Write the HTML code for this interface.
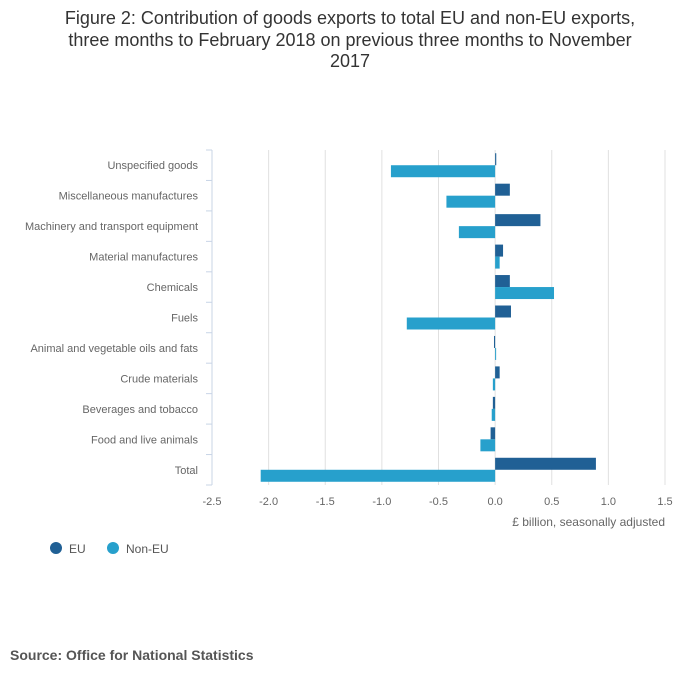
<!DOCTYPE html>
<html><head><meta charset="utf-8"><style>
body{margin:0;background:#fff;font-family:"Liberation Sans",sans-serif;}
</style></head><body>
<svg width="700" height="682" xmlns="http://www.w3.org/2000/svg" style="display:block">
<text x="350" y="24" text-anchor="middle" font-size="18" fill="#333">Figure 2: Contribution of goods exports to total EU and non-EU exports,</text>
<text x="350" y="46" text-anchor="middle" font-size="18" fill="#333">three months to February 2018 on previous three months to November</text>
<text x="350" y="67" text-anchor="middle" font-size="18" fill="#333">2017</text>
<g id="grid"></g><g id="bars"></g><g id="labels"></g>
<text x="665" y="526" text-anchor="end" font-size="12" fill="#666">£ billion, seasonally adjusted</text>
<circle cx="56" cy="548" r="6" fill="#206095"/>
<text x="69" y="553" font-size="12" fill="#555">EU</text>
<circle cx="113" cy="548" r="6" fill="#27a0cc"/>
<text x="126" y="553" font-size="12" fill="#555">Non-EU</text>
<text x="10" y="660" font-size="14" font-weight="bold" fill="#555">Source: Office for National Statistics</text>
</svg>
<script>
const categories=["Unspecified goods","Miscellaneous manufactures","Machinery and transport equipment","Material manufactures","Chemicals","Fuels","Animal and vegetable oils and fats","Crude materials","Beverages and tobacco","Food and live animals","Total"];
const euValues=[0.01,0.13,0.40,0.07,0.13,0.14,-0.01,0.04,-0.02,-0.04,0.89];
const nonEuValues=[-0.92,-0.43,-0.32,0.04,0.52,-0.78,0.005,-0.02,-0.03,-0.13,-2.07];
const xTicks=[-2.5,-2.0,-1.5,-1.0,-0.5,0.0,0.5,1.0,1.5];
const NS="http://www.w3.org/2000/svg";
const x0=212,x1=665,vmin=-2.5,vmax=1.5,plotTop=150,plotBottom=485;
const rowH=(plotBottom-plotTop)/categories.length,barH=12;
function xs(v){return x0+(v-vmin)/(vmax-vmin)*(x1-x0);}
function yc(i){return plotTop+rowH*(i+0.5);}
function mk(tag,attrs,parent){const e=document.createElementNS(NS,tag);for(const k in attrs)e.setAttribute(k,attrs[k]);document.getElementById(parent).appendChild(e);return e;}
xTicks.forEach(t=>{
 const g=mk('line',{x1:xs(t),x2:xs(t),y1:plotTop,y2:plotBottom,stroke:'#e0e0e0','stroke-width':1},'grid');
 
 
 const l=mk('text',{x:xs(t),y:plotBottom+20,'text-anchor':'middle','font-size':11,fill:'#666'},'labels');
 l.textContent=t.toFixed(1);
 
 
});
const ax=mk('line',{x1:x0,x2:x0,y1:plotTop,y2:plotBottom,stroke:'#c8d4e6','stroke-width':1},'grid');


for(let i=0;i<=categories.length;i++){
 const tk=mk('line',{x1:x0-6,x2:x0,y1:plotTop+rowH*i,y2:plotTop+rowH*i,stroke:'#c8d4e6'},'grid');
 
 
}
categories.forEach((c,i)=>{
 const l=mk('text',{x:198,y:yc(i)+4,'text-anchor':'end','font-size':11,fill:'#666'},'labels');
 l.textContent=c;
 
 
 const e=euValues[i],n=nonEuValues[i];
 const b1=mk('rect',{x:Math.min(xs(0),xs(e)),y:yc(i)-barH,width:Math.max(1,Math.abs(xs(e)-xs(0))),height:barH,fill:'#206095'},'bars');
 
 
 const b2=mk('rect',{x:Math.min(xs(0),xs(n)),y:yc(i),width:Math.max(1,Math.abs(xs(n)-xs(0))),height:barH,fill:'#27a0cc'},'bars');
 
 
});
</script>
</body></html>
